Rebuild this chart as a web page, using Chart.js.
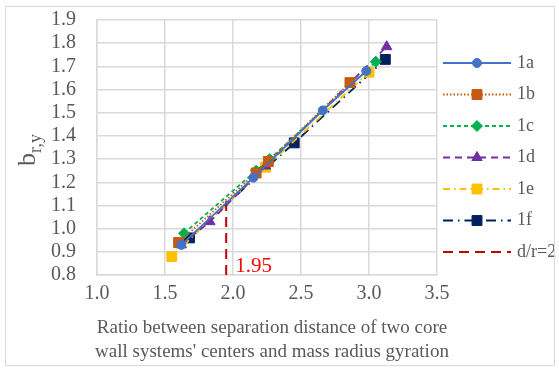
<!DOCTYPE html>
<html>
<head>
<meta charset="utf-8">
<script src="https://cdn.jsdelivr.net/npm/chart.js@4.4.0/dist/chart.umd.min.js"></script>
<style>
  body { margin: 0; background: #fff; }
  #wrap { position: relative; width: 559px; height: 370px; }
  #frame { position: absolute; left: 5px; top: 6px; width: 548px; height: 358px; border: 1px solid #d9d9d9; }
</style>
</head>
<body>
<div id="wrap">
  <div id="frame"></div>
  <canvas id="chart" width="559" height="370"></canvas>
</div>
<script>
// Series data: [ratio, b_r,y]
const s1a = [[1.62, 0.93], [2.15, 1.22], [2.66, 1.51], [2.98, 1.68]];
const s1b = [[1.60, 0.94], [2.17, 1.24], [2.26, 1.29], [2.86, 1.63]];
const s1c = [[1.64, 0.98], [2.17, 1.25], [2.27, 1.30], [3.05, 1.72]];
const s1d = [[1.62, 0.93], [1.83, 1.03], [2.24, 1.27], [3.13, 1.785]];
const s1e = [[1.55, 0.88], [2.24, 1.265], [3.00, 1.675]];
const s1f = [[1.68, 0.96], [2.45, 1.37], [3.12, 1.73]];
const refLine = [[1.95, 0.8], [1.95, 1.12]];
const seriesNames = ['1a', '1b', '1c', '1d', '1e', '1f', 'd/r=2'];
const xTicks = [1.0, 1.5, 2.0, 2.5, 3.0, 3.5];
const yMin = 0.8, yMax = 1.9;

const serif = '"Liberation Serif", "Times New Roman", serif';
const textGray = '#595959';

function toPoints(arr) {
    return arr.map(function (p) { return { x: p[0], y: p[1] }; });
}

function makeSet(label, data, color, dash, marker, size) {
    return {
        label: label,
        data: toPoints(data),
        showLine: true,
        borderColor: color,
        backgroundColor: color,
        borderWidth: 1.8,
        borderDash: dash,
        pointStyle: marker,
        pointRadius: marker ? size : 0,
        pointBorderWidth: 1,
        pointBorderColor: color
    };
}

const datasets = [
    makeSet(seriesNames[0], s1a, '#4472C4', [], 'circle', 4.5),
    makeSet(seriesNames[1], s1b, '#C55A11', [1.5, 2], 'rect', 7),
    makeSet(seriesNames[2], s1c, '#00B050', [4, 3], 'rectRot', 5.5),
    makeSet(seriesNames[3], s1d, '#7030A0', [7, 5], 'triangle', 6),
    makeSet(seriesNames[4], s1e, '#FFC000', [7, 4, 1.5, 4], 'rect', 7),
    makeSet(seriesNames[5], s1f, '#002060', [10, 5, 1.5, 5], 'rect', 7),
    makeSet(seriesNames[6], refLine, '#C00000', [10, 6], false, 0)
];
datasets[6].borderWidth = 2;

// Axis titles, the 1.95 label and the legend
const decorations = {
    id: 'decorations',
    afterDraw: function (chart) {
        const ctx = chart.ctx;
        const area = chart.chartArea;
        const xs = chart.scales.x;
        const ys = chart.scales.y;
        ctx.save();

        // x title
        ctx.fillStyle = textGray;
        ctx.font = '19px ' + serif;
        ctx.textAlign = 'center';
        ctx.textBaseline = 'middle';
        const cx = (area.left + area.right) / 2 + 5;
        ctx.fillText('Ratio between separation distance of two core', cx, 328);
        ctx.fillText("wall systems' centers and mass radius gyration", cx, 352);

        // y title b_r,y
        ctx.translate(35, 150);
        ctx.rotate(-Math.PI / 2);
        ctx.textAlign = 'left';
        ctx.textBaseline = 'alphabetic';
        ctx.font = '26px ' + serif;
        const bw = ctx.measureText('b').width;
        ctx.font = '18px ' + serif;
        const sw = ctx.measureText('r,y').width;
        const start = -(bw + sw) / 2;
        ctx.font = '26px ' + serif;
        ctx.fillText('b', start, 0);
        ctx.font = '18px ' + serif;
        ctx.fillText('r,y', start + bw, 6);
        ctx.setTransform(1, 0, 0, 1, 0, 0);

        // 1.95 label
        ctx.fillStyle = '#FF0000';
        ctx.font = '21px ' + serif;
        ctx.textAlign = 'left';
        ctx.textBaseline = 'alphabetic';
        ctx.fillText(refLine[0][0].toFixed(2), xs.getPixelForValue(refLine[0][0]) + 9, ys.getPixelForValue(yMin) - 3);

        // legend
        const lx0 = area.right + 6, lx1 = lx0 + 68;
        chart.data.datasets.forEach(function (ds, i) {
            const y = 63 + i * 31.5;
            ctx.strokeStyle = ds.borderColor;
            ctx.lineWidth = ds.borderWidth;
            ctx.setLineDash(ds.borderDash);
            ctx.beginPath();
            ctx.moveTo(lx0, y);
            ctx.lineTo(lx1, y);
            ctx.stroke();
            ctx.setLineDash([]);
            if (ds.pointStyle) {
                ctx.fillStyle = ds.backgroundColor;
                ctx.strokeStyle = ds.borderColor;
                ctx.lineWidth = 1;
                Chart.helpers.drawPoint(ctx, {
                    pointStyle: ds.pointStyle,
                    radius: ds.pointRadius,
                    borderWidth: 1,
                    rotation: 0
                }, (lx0 + lx1) / 2, y);
            }
            ctx.fillStyle = textGray;
            ctx.font = '18px ' + serif;
            ctx.textBaseline = 'middle';
            ctx.fillText(ds.label, lx1 + 6, y);
        });
        ctx.restore();
    }
};

new Chart(document.getElementById('chart'), {
    type: 'scatter',
    data: { datasets: datasets },
    options: {
        responsive: false,
        animation: false,
        layout: { padding: { left: 0, right: 122, top: 20, bottom: 0 } },
        plugins: { legend: { display: false }, tooltip: { enabled: false } },
        scales: {
            x: {
                type: 'linear',
                min: xTicks[0],
                max: xTicks[xTicks.length - 1],
                afterBuildTicks: function (scale) {
                    scale.ticks = xTicks.map(function (v) { return { value: v }; });
                },
                afterFit: function (scale) {
                    scale.height = 95;
                    scale.paddingLeft = 0;
                    scale.paddingRight = 0;
                },
                grid: { color: '#d9d9d9', lineWidth: 1.5, drawTicks: false },
                border: { color: '#d9d9d9', width: 1.5 },
                ticks: {
                    color: textGray,
                    font: { family: serif, size: 20 },
                    padding: 7,
                    maxRotation: 0,
                    callback: function (v) { return Number(v).toFixed(1); }
                }
            },
            y: {
                min: yMin,
                max: yMax,
                afterFit: function (scale) {
                    scale.width = 97;
                    scale.paddingTop = 0;
                    scale.paddingBottom = 0;
                },
                grid: { color: '#d9d9d9', lineWidth: 1.5, drawTicks: false },
                border: { color: '#d9d9d9', width: 1.5 },
                ticks: {
                    color: textGray,
                    font: { family: serif, size: 20 },
                    padding: 21,
                    stepSize: 0.1,
                    autoSkip: false,
                    callback: function (v) { return Number(v).toFixed(1); }
                }
            }
        }
    },
    plugins: [decorations]
});
</script>
</body>
</html>
